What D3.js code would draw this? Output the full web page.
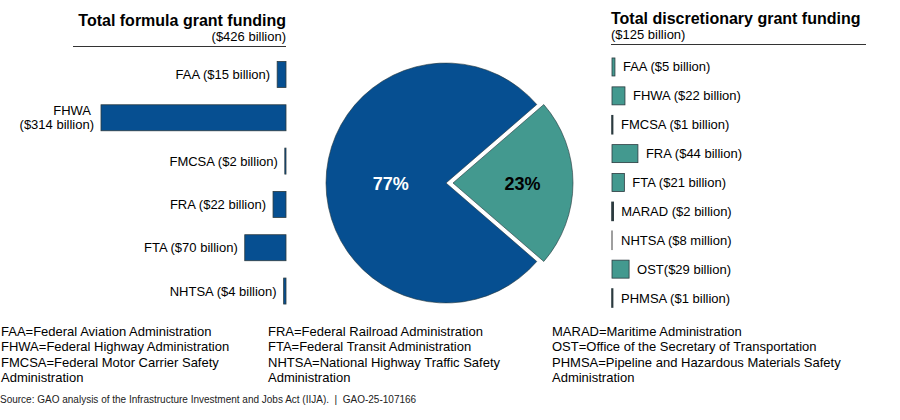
<!DOCTYPE html>
<html>
<head>
<meta charset="utf-8">
<script src="https://cdn.jsdelivr.net/npm/d3@7"></script>
<style>
  html, body { margin: 0; padding: 0; background: #fff; }
  svg { display: block; font-family: Arial, "Liberation Sans", sans-serif; }
</style>
</head>
<body>
<svg id="chart" width="900" height="420"></svg>
<script>
// ---- Data ----
const formulaAgencies = ["FAA", "FHWA", "FMCSA", "FRA", "FTA", "NHTSA"];
const formulaValues = [15, 314, 2, 22, 70, 4];            // $ billions
const formulaAmountLabels = ["($15 billion)", "($314 billion)", "($2 billion)", "($22 billion)", "($70 billion)", "($4 billion)"];

const discAgencies = ["FAA", "FHWA", "FMCSA", "FRA", "FTA", "MARAD", "NHTSA", "OST", "PHMSA"];
const discValues = [5, 22, 1, 44, 21, 2, 0.008, 29, 1];    // $ billions
const discAmountLabels = ["($5 billion)", "($22 billion)", "($1 billion)", "($44 billion)", "($21 billion)", "($2 billion)", "($8 million)", "($29 billion)", "($1 billion)"];
const discSeparators = [" ", " ", " ", " ", " ", " ", " ", "", " "];

const pieNames = ["Discretionary", "Formula"];
const pieTotals = [125, 426];                               // $ billions
const pieLabels = ["23%", "77%"];

const titles = ["Total formula grant funding", "Total discretionary grant funding"];
const subtitles = ["($426 billion)", "($125 billion)"];

const footnoteCols = [
  ["FAA=Federal Aviation Administration", "FHWA=Federal Highway Administration", "FMCSA=Federal Motor Carrier Safety", "Administration"],
  ["FRA=Federal Railroad Administration", "FTA=Federal Transit Administration", "NHTSA=National Highway Traffic Safety", "Administration"],
  ["MARAD=Maritime Administration", "OST=Office of the Secretary of Transportation", "PHMSA=Pipeline and Hazardous Materials Safety", "Administration"]
];
const sourceText = "Source: GAO analysis of the Infrastructure Investment and Jobs Act (IIJA).  |  GAO-25-107166";

// ---- Styles ----
const BLUE = "#064f91";
const TEAL = "#43998f";
const EDGE = "#2b3a3f";
const TEXT = "#000";

const svg = d3.select("#chart");

// shared value scale for bars
const xVal = d3.scaleLinear().domain([0, 314]).range([0, 185]);

// ---- Left panel: formula ----
const leftRight = 286;
svg.append("text").attr("x", leftRight).attr("y", 26).attr("text-anchor", "end")
  .attr("font-size", 16).attr("font-weight", "bold").attr("fill", TEXT).text(titles[0]);
svg.append("text").attr("x", leftRight).attr("y", 41).attr("text-anchor", "end")
  .attr("font-size", 13).attr("fill", TEXT).text(subtitles[0]);
svg.append("line").attr("x1", 73).attr("x2", leftRight).attr("y1", 46.5).attr("y2", 46.5)
  .attr("stroke", "#333").attr("stroke-width", 1);

const yLeft = d3.scaleBand().domain(formulaAgencies).range([52.8, 312.7])
  .paddingInner(0.4).paddingOuter(0.2);

const fData = formulaAgencies.map((a, i) => ({ a, v: formulaValues[i], amt: formulaAmountLabels[i] }));

svg.append("g").selectAll("rect").data(fData).join("rect")
  .attr("x", d => leftRight - xVal(d.v))
  .attr("y", d => yLeft(d.a))
  .attr("width", d => xVal(d.v))
  .attr("height", yLeft.bandwidth())
  .attr("fill", BLUE).attr("stroke", EDGE).attr("stroke-width", 0.8);

const fLab = svg.append("g").attr("font-size", 13).attr("fill", TEXT).attr("text-anchor", "end");
fData.forEach(d => {
  const cy = yLeft(d.a) + yLeft.bandwidth() / 2;
  const x = leftRight - xVal(d.v) - 7;
  if (xVal(d.v) > 100) {
    fLab.append("text").attr("x", x - 3).attr("y", cy - 3).text(d.a);
    fLab.append("text").attr("x", x).attr("y", cy + 11).text(d.amt);
  } else {
    fLab.append("text").attr("x", x).attr("y", cy + 4.5).text(d.a + " " + d.amt);
  }
});

// ---- Right panel: discretionary ----
const rightLeft = 612;
svg.append("text").attr("x", 611).attr("y", 24)
  .attr("font-size", 16).attr("font-weight", "bold").attr("fill", TEXT).text(titles[1]);
svg.append("text").attr("x", 611).attr("y", 39)
  .attr("font-size", 13).attr("fill", TEXT).text(subtitles[1]);
svg.append("line").attr("x1", 611).attr("x2", 866).attr("y1", 44.5).attr("y2", 44.5)
  .attr("stroke", "#333").attr("stroke-width", 1);

const yRight = d3.scaleBand().domain(discAgencies).range([52.2, 312.8])
  .paddingInner(0.377).paddingOuter(0.2);

const dData = discAgencies.map((a, i) => ({ a, v: discValues[i], amt: discAmountLabels[i], sep: discSeparators[i] }));

svg.append("g").selectAll("rect").data(dData).join("rect")
  .attr("x", rightLeft)
  .attr("y", d => yRight(d.a))
  .attr("width", d => xVal(d.v))
  .attr("height", yRight.bandwidth())
  .attr("fill", TEAL)
  .attr("stroke", d => d.v < 0.1 ? "#888" : EDGE)
  .attr("stroke-width", d => xVal(d.v) < 2 ? 1.6 : 0.8);

svg.append("g").attr("font-size", 13).attr("fill", TEXT)
  .selectAll("text").data(dData).join("text")
  .attr("x", d => rightLeft + Math.max(xVal(d.v), 1) + 8)
  .attr("y", d => yRight(d.a) + yRight.bandwidth() / 2 + 4.5)
  .text(d => d.a + d.sep + d.amt);

// ---- Pie ----
const cx = 446, cy = 183, R = 120;
const total = d3.sum(pieTotals);
const pieData = pieNames.map((n, i) => ({ n, v: pieTotals[i], lab: pieLabels[i] }));
const a0 = Math.PI / 2 - (pieTotals[0] / total) * Math.PI;
const pie = d3.pie().value(d => d.v).sort(null)
  .startAngle(a0).endAngle(a0 + 2 * Math.PI);
const arcs = pie(pieData);
const arc = d3.arc().innerRadius(0).outerRadius(R);
const explode = [7, 0];
const fills = [TEAL, BLUE];
const labelR = [0.58, 0.46];
const labelFill = ["#000", "#fff"];

const pg = svg.append("g").attr("transform", `translate(${cx},${cy})`);
arcs.forEach((a, i) => {
  const mid = (a.startAngle + a.endAngle) / 2;
  const dx = Math.sin(mid) * explode[i], dy = -Math.cos(mid) * explode[i];
  const g = pg.append("g").attr("transform", `translate(${dx},${dy})`);
  g.append("path").attr("d", arc(a)).attr("fill", fills[i])
    .attr("stroke", "#24363a").attr("stroke-width", 0.6);
  const lr = R * labelR[i];
  g.append("text")
    .attr("x", Math.sin(mid) * lr).attr("y", -Math.cos(mid) * lr + 6.5)
    .attr("text-anchor", "middle").attr("font-size", 18).attr("font-weight", "bold")
    .attr("fill", labelFill[i]).text(a.data.lab);
});

// ---- Footnotes ----
const colX = [1, 268, 552];
const lineY = [336, 351.3, 366.6, 382];
footnoteCols.forEach((col, ci) => {
  svg.append("g").attr("font-size", 13).attr("fill", TEXT)
    .selectAll("text").data(col).join("text")
    .attr("x", colX[ci]).attr("y", (d, i) => lineY[i]).text(d => d);
});

svg.append("text").attr("x", 0).attr("y", 403).attr("font-size", 10).attr("fill", "#222")
  .attr("xml:space", "preserve").style("white-space", "pre").text(sourceText);
</script>
</body>
</html>
